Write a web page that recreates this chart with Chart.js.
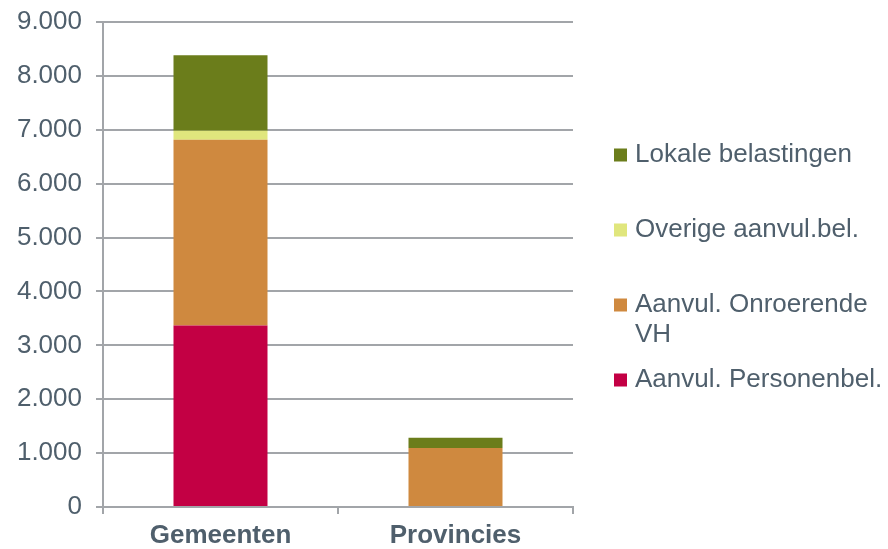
<!DOCTYPE html>
<html>
<head>
    <meta charset="UTF-8">
    <title>Belastingen gemeenten en provincies</title>
    <script src="https://cdn.jsdelivr.net/npm/chart.js@4.4.1/dist/chart.umd.min.js"></script>
    <style>
        html, body { margin: 0; padding: 0; background: #ffffff; }
        #wrap { width: 888px; height: 549px; }
    </style>
</head>
<body>
    <div id="wrap"><canvas id="chart" width="888" height="549"></canvas></div>

    <script>
        // data (bottom of the stack first)
        var categorieen = ['Gemeenten', 'Provincies'];
        var personenbel = [3370, 0];
        var onroerendeVH = [3445, 1095];
        var overigeAanvul = [165, 0];
        var lokaleBel = [1405, 190];

        var reeksNamen = ['Aanvul. Personenbel.', 'Aanvul. Onroerende VH', 'Overige aanvul.bel.', 'Lokale belastingen'];
        // how the legend wraps the names
        var legendaRegels = [['Aanvul. Personenbel.'], ['Aanvul. Onroerende', 'VH'], ['Overige aanvul.bel.'], ['Lokale belastingen']];
        var kleuren = ['#c30044', '#cf893f', '#e0e67d', '#6b7d1b'];

        var tekstKleur = '#4f5f6c';
        var lijnKleur = '#a2a5a9';
        var lettertype = "'Liberation Sans', Arial, sans-serif";

        function duizendtal(v) {
            return String(v).replace(/\B(?=(\d{3})+(?!\d))/g, '.');
        }

        // legend on the right, drawn by hand because one label wraps
        var legendaPlugin = {
            id: 'legenda',
            afterDraw: function (chart) {
                var ctx = chart.ctx;
                ctx.save();
                ctx.font = '26px ' + lettertype;
                ctx.textBaseline = 'middle';
                ctx.textAlign = 'left';
                var x = 614, y = 155, stap = 75, regel = 30;
                for (var i = reeksNamen.length - 1; i >= 0; i--) {
                    ctx.fillStyle = kleuren[i];
                    ctx.fillRect(x, y - 6.5, 13, 13);
                    ctx.fillStyle = tekstKleur;
                    legendaRegels[i].forEach(function (t, j) {
                        ctx.fillText(t, x + 21, y + j * regel);
                    });
                    y += stap;
                }
                ctx.restore();
            }
        };

        var reeksen = [personenbel, onroerendeVH, overigeAanvul, lokaleBel];
        var ctx = document.getElementById('chart').getContext('2d');
        var chart = new Chart(ctx, {
            type: 'bar',
            data: {
                labels: categorieen,
                datasets: reeksen.map(function (d, i) {
                    return {
                        label: reeksNamen[i],
                        data: d,
                        backgroundColor: kleuren[i],
                        borderWidth: 0,
                        barPercentage: 0.4,
                        categoryPercentage: 1
                    };
                })
            },
            options: {
                responsive: false,
                animation: false,
                layout: { padding: { top: 22, right: 315, left: 0, bottom: 0 } },
                plugins: {
                    legend: { display: false },
                    tooltip: { enabled: false }
                },
                scales: {
                    x: {
                        stacked: true,
                        grid: {
                            display: true,
                            drawOnChartArea: false,
                            color: lijnKleur,
                            lineWidth: 2,
                            tickLength: 7
                        },
                        border: { color: lijnKleur, width: 2 },
                        ticks: {
                            color: tekstKleur,
                            padding: 6,
                            font: { family: lettertype, size: 26, weight: 'bold' }
                        },
                        afterFit: function (s) { s.height = 42; }
                    },
                    y: {
                        stacked: true,
                        min: 0,
                        max: 9000,
                        grid: {
                            color: lijnKleur,
                            lineWidth: 2,
                            tickLength: 7
                        },
                        border: { color: lijnKleur, width: 2 },
                        ticks: {
                            stepSize: 1000,
                            color: tekstKleur,
                            padding: 14,
                            font: { family: lettertype, size: 26 },
                            callback: function (v) { return duizendtal(v); }
                        },
                        afterFit: function (s) {
                            s.width = 103;
                            s.paddingTop = 0;
                            s.paddingBottom = 0;
                        }
                    }
                }
            },
            plugins: [legendaPlugin]
        });
    </script>
</body>
</html>
